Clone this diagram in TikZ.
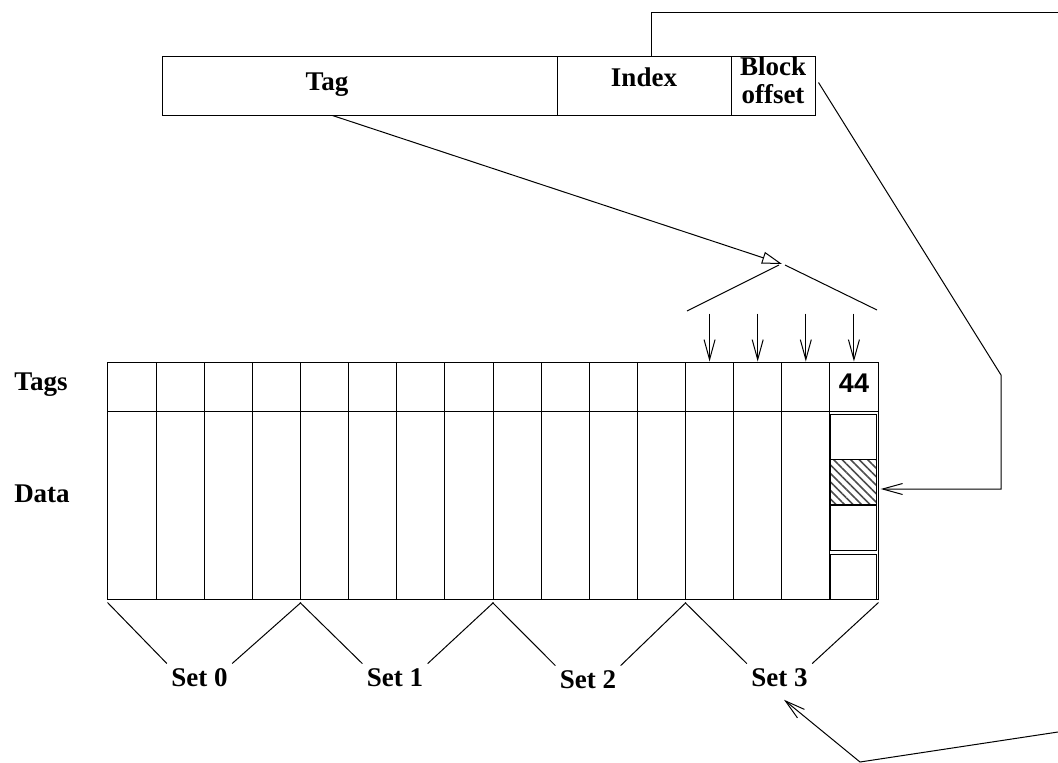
\documentclass[tikz,border=0pt]{standalone}
\usepackage{fontspec}
\setmainfont{Liberation Serif}
\newfontfamily\numfont{Liberation Sans}
\usetikzlibrary{arrows.meta,patterns.meta}

\begin{document}
\begin{tikzpicture}[
  x=1pt, y=-1pt,
  line width=1pt,
  field/.style={draw, minimum height=59pt, inner sep=0pt},
  tcell/.style={draw, minimum width=48.125pt, minimum height=49pt, inner sep=0pt},
  dcol/.style={draw, minimum width=48.125pt, minimum height=188pt, inner sep=0pt},
  blk/.style={draw, minimum width=46pt, minimum height=45pt, inner sep=0pt},
  hatch/.style={pattern={Lines[angle=-45,distance=6pt,line width=1.6pt]}, pattern color=black!70},
  lbl/.style={font=\fontsize{27}{28}\selectfont\bfseries, inner sep=4pt},
  num/.style={font=\fontsize{27}{28}\selectfont\numfont\bfseries, inner sep=2pt},
  arrow/.style={-{Straight Barb[length=20pt,width=11pt]}},
  tagarrow/.style={-{Triangle[open,length=20pt,width=12pt]}},
]
\useasboundingbox (0,0) rectangle (1058,763);

% ---- Address ----
\node[field, minimum width=395pt] (tagf) at (359.5,85.5) {};
\node[field, minimum width=174pt] (idxf) at (644,85.5) {};
\node[field, minimum width=84pt] (offf) at (773,85.5) {};
\node[lbl, anchor=base] (tagtxt) at (327,90) {Tag};
\node[lbl, anchor=base] (idxtxt) at (644,86) {Index};
\node[lbl, align=center] (offtxt) at (773,80) {Block\\offset};

% ---- Cache: tags row and data columns ----
\foreach \i in {0,...,15} {
  \node[tcell] (t\i) at ({132.06+48.125*\i},386.5) {};
  \node[dcol] (d\i) at ({132.06+48.125*\i},505) {};
}

% blocks of the hit line
\node[blk] (b0) at (853.9,437) {};
\node[blk, hatch] (b1) at (853.9,482) {};
\node[blk] (b2) at (853.9,527.5) {};
\node[blk] (b3) at (853.9,577) {};

\node[num, anchor=base] (v44) at (854,392) {44};

\node[lbl, anchor=base] (lbtags) at (41,390) {Tags};
\node[lbl, anchor=base] (lbdata) at (42,502) {Data};

% ---- Sets ----
\node[lbl, anchor=base] (s0) at (199.5,686) {Set 0};
\node[lbl, anchor=base] (s1) at (395,686) {Set 1};
\node[lbl, anchor=base] (s2) at (588,688) {Set 2};
\node[lbl, anchor=base] (s3) at (779.5,686) {Set 3};

\foreach \s/\l/\r in {0/0/3, 1/4/7, 2/8/11, 3/12/15} {
  \draw ([shift={(0,3)}]d\l.south west) -- (s\s.north west);
  \draw ([shift={(0,3)}]d\r.south east) -- (s\s.north east);
}

% ---- Connections ----
% tag compare
\coordinate (cmp) at (782,264);
\draw[tagarrow] ([shift={(-27,0)}]tagf.south) -- (cmp);
\draw ([shift={(-3,1)}]cmp) -- ++(-92,46);
\draw ([shift={(3,1)}]cmp) -- ++(92,45);
\foreach \c in {12,...,15}
  \draw[arrow] ([shift={(0,-48)}]t\c.north) -- (t\c.north);

% index selects the set
\coordinate (idxout) at (1058,12);
\draw ([shift={(7,0)}]idxf.north) |- (idxout);
\coordinate (setin) at (1058,732);
\coordinate (setbend) at (860,762);
\draw[arrow] (setin) -- (setbend) -- ([shift={(4.5,9)}]s3.south);

% block offset selects the block
\coordinate (boff) at (1001,375);
\draw[arrow] ([shift={(3,-3)}]offf.east) -- (boff) |- ([shift={(3,7)}]b1.east);

\end{tikzpicture}
\end{document}
